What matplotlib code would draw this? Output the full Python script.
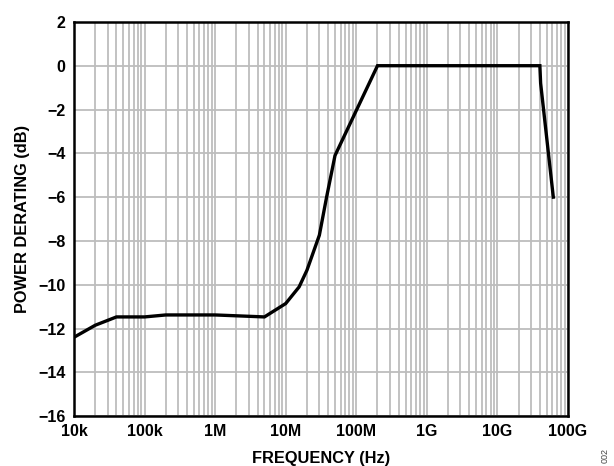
import matplotlib.pyplot as plt
from matplotlib.ticker import FixedLocator, LogLocator, NullFormatter

# derating curve
freq_hz = [1e4, 2e4, 4e4, 1e5, 2e5, 1e6, 5e6, 1e7, 1.55e7, 2e7, 3e7, 3.8e7,
           5e7, 2e8, 4e10, 4.1e10, 6.2e10]
derating_db = [-12.4, -11.85, -11.47, -11.47, -11.38, -11.38, -11.47, -10.86,
               -10.1, -9.34, -7.74, -6.0, -4.1, 0.0, 0.0, -0.8, -6.0]

x_ticks = [1e4, 1e5, 1e6, 1e7, 1e8, 1e9, 1e10, 1e11]
x_labels = ['10k', '100k', '1M', '10M', '100M', '1G', '10G', '100G']
y_ticks = [2, 0, -2, -4, -6, -8, -10, -12, -14, -16]

plt.rcParams['font.family'] = ['Liberation Sans', 'DejaVu Sans']
plt.rcParams['font.weight'] = 'bold'

fig = plt.figure(figsize=(6.14, 4.66), dpi=100)
ax = fig.add_axes([0.1205, 0.107, 0.8045, 0.846])

ax.plot(freq_hz, derating_db, color='black', linewidth=2.4, solid_joinstyle='miter')

ax.set_xscale('log')
ax.set_xlim(1e4, 1e11)
ax.set_ylim(-16, 2)
ax.xaxis.set_major_locator(FixedLocator(x_ticks))
ax.set_xticklabels(x_labels)
ax.xaxis.set_minor_locator(LogLocator(base=10, subs=range(2, 10), numticks=20))
ax.xaxis.set_minor_formatter(NullFormatter())
ax.set_yticks(y_ticks)
ax.set_yticklabels([f'{v}'.replace('-', '\u2212') for v in y_ticks])

ax.grid(True, which='major', color='#bdbdbd', linewidth=1.3)
ax.grid(True, which='minor', axis='x', color='#bdbdbd', linewidth=1.3)
ax.set_axisbelow(True)

ax.tick_params(which='both', length=0, labelsize=11.5)
ax.tick_params(axis='x', pad=6)
ax.tick_params(axis='y', pad=6)
for sp in ax.spines.values():
    sp.set_linewidth(1.8)

ax.set_xlabel('FREQUENCY (Hz)', fontsize=11.8, fontweight='bold', labelpad=8)
ax.set_ylabel('POWER DERATING (dB)', fontsize=11.8, fontweight='bold', labelpad=6)

fig.text(0.985, 0.006, '002', rotation=90, fontsize=6.5, color='#444444',
         ha='center', va='bottom', fontweight='normal')

fig.savefig('out.png', dpi=100)
